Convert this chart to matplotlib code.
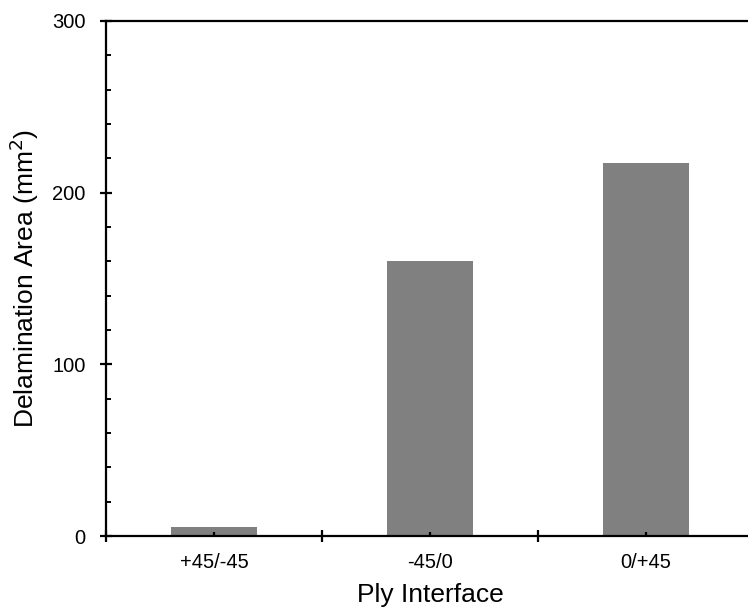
import matplotlib
matplotlib.use("Agg")
import matplotlib.pyplot as plt
from matplotlib.ticker import MultipleLocator

categories = ["+45/-45", "-45/0", "0/+45"]
values = [5.4, 160, 217]

plt.rcParams['font.family'] = ['Liberation Sans', 'DejaVu Sans']

fig = plt.figure(figsize=(7.48, 6.12), dpi=100)
ax = fig.add_axes([106/748, (612-536)/612, (754-106)/748, (536-21)/612])

x = list(range(len(categories)))
ax.bar(x, values, width=0.4, color='#808080', edgecolor='none', zorder=1)

ax.set_xlim(-0.5, len(categories) - 0.5)
ax.set_ylim(0, 300)

for s in ax.spines.values():
    s.set_linewidth(1.6)
    s.set_zorder(3)

ax.set_xticks([i - 0.5 for i in range(len(categories) + 1)])
ax.set_xticklabels([])
ax.set_xticks(x, minor=True)
ax.set_xticklabels(categories, minor=True)
ax.tick_params(axis='x', which='major', direction='inout', length=9, width=1.6)
ax.tick_params(axis='x', which='minor', direction='in', length=3, width=1.6,
               labelsize=14.5, pad=12)

ax.yaxis.set_major_locator(MultipleLocator(100))
ax.yaxis.set_minor_locator(MultipleLocator(20))
ax.tick_params(axis='y', which='major', direction='inout', length=9, width=1.6,
               labelsize=14.5, pad=10)
ax.tick_params(axis='y', which='minor', direction='in', length=3.5, width=1.4)

ax.set_xlabel("Ply Interface", fontsize=19, labelpad=8)
ax.set_ylabel("Delamination Area (mm$^2$)", fontsize=19, labelpad=8)

fig.savefig("out.png", dpi=100)
